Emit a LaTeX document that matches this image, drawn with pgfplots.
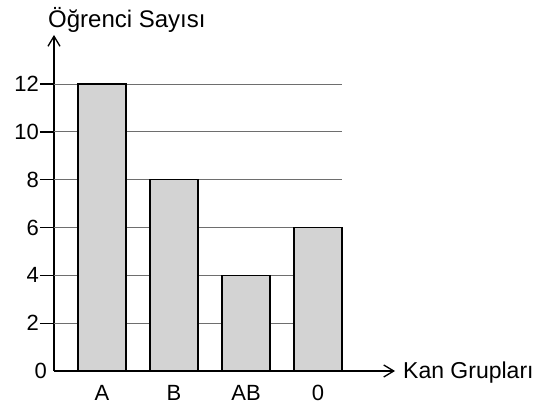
\documentclass[border=0pt]{standalone}
\usepackage{pgfplots}
\pgfplotsset{compat=1.18}
\usepackage{fontspec}
\setmainfont{Liberation Sans}
\usetikzlibrary{arrows.meta}
\definecolor{barfill}{RGB}{211,211,211}
\definecolor{gridc}{RGB}{110,110,110}
\begin{document}
\begin{tikzpicture}[font=\fontsize{22bp}{26bp}\selectfont]
\useasboundingbox (-54bp,-34bp) rectangle (501bp,371bp);
\begin{axis}[
  at={(0,0)}, anchor=south west,
  scale only axis,
  width=341bp, height=336bp,
  xmin=-0.6667, xmax=4.069,
  ymin=0, ymax=14.05,
  axis lines=left,
  axis line style={line width=1.3bp, -{Straight Barb[length=10bp,width=12bp,line width=1.3bp]}},
  /pgf/number format/assume math mode=true,
  xtick={0,1,2,3},
  xticklabels={A,B,AB,0},
  x tick style={draw=none},
  xticklabel style={yshift=3bp},
  ytick={2,4,...,12},
  extra y ticks={0},
  extra y tick style={major tick length=0pt, yticklabel style={xshift=-6bp}},
  tick align=outside,
  major tick length=14bp,
  y tick style={black, line width=1.3bp},
  yticklabel style={inner sep=1bp},
  clip=false,
]
\draw[gridc, line width=1bp] (axis cs:-0.6667,2) -- (axis cs:3.3333,2);
\draw[gridc, line width=1bp] (axis cs:-0.6667,4) -- (axis cs:3.3333,4);
\draw[gridc, line width=1bp] (axis cs:-0.6667,6) -- (axis cs:3.3333,6);
\draw[gridc, line width=1bp] (axis cs:-0.6667,8) -- (axis cs:3.3333,8);
\draw[gridc, line width=1bp] (axis cs:-0.6667,10) -- (axis cs:3.3333,10);
\draw[gridc, line width=1bp] (axis cs:-0.6667,12) -- (axis cs:3.3333,12);
\addplot[ybar, bar width=48bp, fill=barfill, draw=black, line width=1.3bp]
  coordinates {(0,12) (1,8) (2,4) (3,6)};
\node[anchor=base west, inner sep=0pt, font=\fontsize{24bp}{28bp}\selectfont] at (rel axis cs:0,1) [xshift=-6bp, yshift=7bp] {Öğrenci Sayısı};
\node[anchor=base west, inner sep=0pt, font=\fontsize{23bp}{28bp}\selectfont] at (rel axis cs:1,0) [xshift=8bp, yshift=-7bp] {Kan Grupları};
\end{axis}
\end{tikzpicture}
\end{document}
